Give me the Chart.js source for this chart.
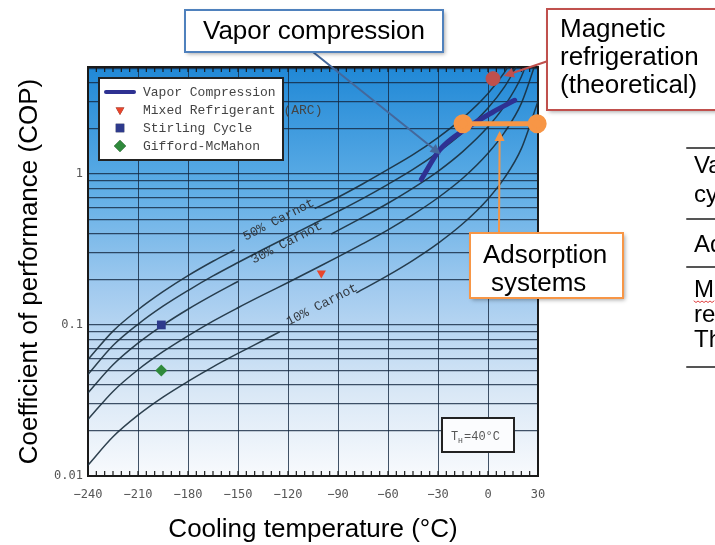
<!DOCTYPE html>
<html>
<head>
<meta charset="utf-8">
<script src="https://cdn.jsdelivr.net/npm/chart.js@4.4.1/dist/chart.umd.min.js"></script>
<style>
  html, body { margin: 0; padding: 0; background: #fff; }
  #wrap { width: 715px; height: 545px; }
</style>
</head>
<body>
<div id="wrap"><canvas id="copChart" width="715" height="545"></canvas></div>
<script>
// axis ticks
var xMin = -240, xMax = 30, xStep = 30, xMinorStep = 5;
var yMin = 0.01, yMax = 5.1;
var yTickValues = [0.01, 0.02, 0.03, 0.04, 0.05, 0.06, 0.07, 0.08, 0.09,
                   0.1, 0.2, 0.3, 0.4, 0.5, 0.6, 0.7, 0.8, 0.9,
                   1, 2, 3, 4, 5];
var yLabelValues = [0.01, 0.1, 1];

// fraction-of-Carnot curves [cooling temp °C, COP], null = gap for the label
var carnot50 = [[-240,0.059],[-225,0.091],[-210,0.126],[-195,0.166],[-180,0.212],[-165,0.264],[-152,0.314],
                [-128,null],
                [-104,0.59],[-90,0.70],[-75,0.86],[-60,1.07],[-45,1.34],[-30,1.74],[-15,2.35],[0,3.41],[10,4.72],[20,7.3]];
var carnot40 = [[-240,0.047],[-225,0.073],[-210,0.101],[-195,0.133],[-180,0.169],[-165,0.211],[-150,0.259],[-135,0.316],
                [-120,0.383],[-105,0.464],[-90,0.564],[-75,0.689],[-60,0.853],[-45,1.07],[-30,1.39],[-15,1.88],[0,2.73],[10,3.78],[20,5.86]];
var carnot30 = [[-240,0.0355],[-225,0.0545],[-210,0.0758],[-195,0.0998],[-180,0.127],[-165,0.158],[-150,0.194],
                [-122,null],
                [-94,0.40],[-75,0.517],[-60,0.639],[-45,0.805],[-30,1.04],[-15,1.41],[0,2.05],[10,2.83],[20,4.40],[30,9.09]];
var carnot20 = [[-240,0.0237],[-225,0.0363],[-210,0.0505],[-195,0.0665],[-180,0.0847],[-165,0.106],[-150,0.130],[-135,0.158],
                [-120,0.191],[-105,0.232],[-90,0.282],[-75,0.345],[-60,0.426],[-45,0.537],[-30,0.695],[-15,0.939],[0,1.37],[10,1.89],[20,2.93],[30,6.06]];
var carnot10 = [[-240,0.0118],[-225,0.0182],[-210,0.0253],[-195,0.0333],[-180,0.0423],[-165,0.0528],[-150,0.0648],[-135,0.0789],[-125,0.090],
                [-102,null],
                [-79,0.163],[-60,0.213],[-45,0.268],[-30,0.347],[-15,0.469],[0,0.683],[10,0.944],[20,1.47],[30,3.03]];

var carnotLabels = ['50% Carnot', '30% Carnot', '10% Carnot'];
var carnotLabelT = [-125.6, -120.8, -99.6];
var carnotLabelCop = [0.496, 0.349, 0.136];

// technologies
var vaporCompression = [[-40,0.92],[-29,1.44],[-13,2.0],[3,2.57],[16,3.07]];
var mixedRefrigerant = [[-100,0.22]];
var stirlingCycle = [[-196,0.1]];
var giffordMcMahon = [[-196,0.05]];
var magnetic = [[3,4.27]];
var adsorption = [[-15,2.15],[29.5,2.15]];

function pts(a) { return a.map(function (p) { return {x: p[0], y: p[1]}; }); }

var curveColor = 'rgba(25,45,60,0.9)';
var gridColor = 'rgba(20,40,65,0.8)';
var sans = '"Liberation Sans", Arial, sans-serif';
var mono = '"Liberation Mono", "Courier New", monospace';

function carnotSet(data) {
    return {
        label: '', data: pts(data), borderColor: curveColor, borderWidth: 1.5,
        pointRadius: 0, cubicInterpolationMode: 'monotone', spanGaps: false
    };
}

function arrow(ctx, x1, y1, x2, y2, color) {
    var a = Math.atan2(y2 - y1, x2 - x1), head = 10, hw = 5;
    var bx = x2 - Math.cos(a) * head, by = y2 - Math.sin(a) * head;
    ctx.save();
    ctx.strokeStyle = color; ctx.fillStyle = color; ctx.lineWidth = 2;
    ctx.beginPath(); ctx.moveTo(x1, y1); ctx.lineTo(bx, by); ctx.stroke();
    ctx.beginPath(); ctx.moveTo(x2, y2);
    ctx.lineTo(bx - Math.sin(a) * hw, by + Math.cos(a) * hw);
    ctx.lineTo(bx + Math.sin(a) * hw, by - Math.cos(a) * hw);
    ctx.closePath(); ctx.fill();
    ctx.restore();
}

function callout(ctx, x, y, w, h, color, lines, align) {
    ctx.save();
    ctx.shadowColor = 'rgba(0,0,0,0.35)'; ctx.shadowBlur = 4;
    ctx.shadowOffsetX = 2; ctx.shadowOffsetY = 2;
    ctx.fillStyle = '#fff'; ctx.fillRect(x, y, w, h);
    ctx.shadowColor = 'transparent';
    ctx.strokeStyle = color; ctx.lineWidth = 2; ctx.strokeRect(x, y, w, h);
    ctx.fillStyle = '#000'; ctx.font = '26px ' + sans;
    ctx.textAlign = align || 'left'; ctx.textBaseline = 'alphabetic';
    lines.forEach(function (l) { ctx.fillText(l[0], l[1], l[2]); });
    ctx.restore();
}

var decorPlugin = {
    id: 'decor',
    beforeDraw: function (chart) {
        var ctx = chart.ctx, a = chart.chartArea;
        ctx.save();
        ctx.fillStyle = '#fff';
        ctx.fillRect(0, 0, chart.width, chart.height);
        var g = ctx.createLinearGradient(0, a.top, 0, a.bottom);
        g.addColorStop(0, '#2088d6');
        g.addColorStop(0.28, '#5aabe5');
        g.addColorStop(0.55, '#a3cbef');
        g.addColorStop(0.8, '#dae8f6');
        g.addColorStop(1, '#f8fafd');
        ctx.fillStyle = g;
        ctx.fillRect(a.left, a.top, a.right - a.left, a.bottom - a.top);
        ctx.restore();
    },
    beforeDatasetsDraw: function (chart) {
        var ctx = chart.ctx, a = chart.chartArea, xs = chart.scales.x;
        ctx.save();
        ctx.strokeStyle = '#1a1a1a';
        ctx.lineWidth = 1.2;
        for (var v = xMin; v <= xMax; v += xMinorStep) {
            var px = xs.getPixelForValue(v);
            ctx.beginPath();
            ctx.moveTo(px, a.top); ctx.lineTo(px, a.top + 5);
            ctx.moveTo(px, a.bottom); ctx.lineTo(px, a.bottom - 5);
            ctx.stroke();
        }
        ctx.lineWidth = 2;
        ctx.strokeRect(a.left, a.top, a.right - a.left, a.bottom - a.top);

        // labels on the Carnot curves
        ctx.fillStyle = '#33383e';
        ctx.font = '13px ' + mono;
        ctx.textAlign = 'center'; ctx.textBaseline = 'middle';
        for (var i = 0; i < carnotLabels.length; i++) {
            ctx.save();
            ctx.translate(xs.getPixelForValue(carnotLabelT[i]), chart.scales.y.getPixelForValue(carnotLabelCop[i]));
            ctx.rotate(-27 * Math.PI / 180);
            ctx.fillText(carnotLabels[i], 0, 0);
            ctx.restore();
        }
        ctx.restore();
    },
    afterDraw: function (chart) {
        var ctx = chart.ctx, xs = chart.scales.x, ys = chart.scales.y;
        ctx.save();

        // legend box
        ctx.fillStyle = '#fff';
        ctx.fillRect(99, 78, 184, 82);
        ctx.strokeStyle = '#222'; ctx.lineWidth = 2;
        ctx.strokeRect(99, 78, 184, 82);
        var leg = [
            {label: 'Vapor Compression', kind: 'line', color: '#2e3192'},
            {label: 'Mixed Refrigerant (ARC)', kind: 'triangle', color: '#e8452c'},
            {label: 'Stirling Cycle', kind: 'rect', color: '#2e3a8c'},
            {label: 'Gifford-McMahon', kind: 'rectRot', color: '#2f8a3c'}
        ];
        ctx.font = '13px ' + mono;
        ctx.textBaseline = 'middle'; ctx.textAlign = 'left';
        leg.forEach(function (it, i) {
            var y = 92 + i * 18;
            if (it.kind === 'line') {
                ctx.strokeStyle = it.color; ctx.lineWidth = 4; ctx.lineCap = 'round';
                ctx.beginPath(); ctx.moveTo(106, y); ctx.lineTo(134, y); ctx.stroke();
            } else {
                Chart.helpers.drawPoint(ctx, {pointStyle: it.kind,
                    radius: it.kind === 'triangle' ? 5 : 6, rotation: it.kind === 'triangle' ? 180 : 0,
                    borderWidth: 0}, 120, y);
                ctx.fillStyle = it.color; ctx.fill();
            }
            ctx.fillStyle = '#444';
            ctx.fillText(it.label, 143, y + 1);
        });

        // T_H box
        ctx.fillStyle = '#fbfcfe';
        ctx.fillRect(442, 418, 72, 34);
        ctx.strokeStyle = '#222'; ctx.lineWidth = 2;
        ctx.strokeRect(442, 418, 72, 34);
        ctx.fillStyle = '#555';
        ctx.font = '12px ' + mono;
        ctx.textBaseline = 'alphabetic';
        ctx.fillText('T', 451, 440);
        ctx.font = '8px ' + mono;
        ctx.fillText('H', 458, 443);
        ctx.font = '12px ' + mono;
        ctx.fillText('=40\u00b0C', 464, 440);

        // callouts
        arrow(ctx, 313, 52, xs.getPixelForValue(-28.5), ys.getPixelForValue(1.35), '#44689c');
        callout(ctx, 185, 10, 258, 42, '#4f81bd', [['Vapor compression', 314, 39]], 'center');

        arrow(ctx, 548, 61, xs.getPixelForValue(9.5), ys.getPixelForValue(4.45), '#c0504d');
        callout(ctx, 547, 9, 185, 101, '#c0504d',
            [['Magnetic', 560, 37], ['refrigeration', 560, 65], ['(theoretical)', 560, 93]]);

        arrow(ctx, 499, 233, xs.getPixelForValue(7), ys.getPixelForValue(1.92), '#f79646');
        callout(ctx, 470, 233, 153, 65, '#f79646',
            [['Adsorption', 483, 263], ['systems', 491, 291]]);

        // cropped table at the right edge
        ctx.strokeStyle = '#555'; ctx.lineWidth = 2;
        [148, 219, 267, 367].forEach(function (y) {
            ctx.beginPath(); ctx.moveTo(687, y); ctx.lineTo(715, y); ctx.stroke();
        });
        ctx.fillStyle = '#000';
        ctx.font = '24px ' + sans;
        ctx.textAlign = 'left'; ctx.textBaseline = 'alphabetic';
        [['Vapor', 173], ['cycle', 202], ['Adsorption', 252], ['Magnetic', 297], ['refrigeration', 322], ['Theoretical', 347]]
            .forEach(function (t) { ctx.fillText(t[0], 694, t[1]); });
        // spell-check squiggle under "Magnetic"
        ctx.strokeStyle = '#e04040'; ctx.lineWidth = 1;
        ctx.beginPath();
        for (var sx = 694; sx <= 715; sx += 2) {
            var sy = 301 + ((sx - 694) % 4 === 0 ? 0 : 1.5);
            if (sx === 694) ctx.moveTo(sx, sy); else ctx.lineTo(sx, sy);
        }
        ctx.stroke();
        ctx.restore();
    }
};

var ctx = document.getElementById('copChart').getContext('2d');
var copChart = new Chart(ctx, {
    type: 'line',
    data: {
        datasets: [
            {label: 'Adsorption systems', data: pts(adsorption), borderColor: '#f79646', borderWidth: 5,
             pointRadius: 7, pointBackgroundColor: '#f79646', pointBorderColor: '#f79646', clip: false},
            {label: 'Magnetic refrigeration (theoretical)', data: pts(magnetic), showLine: false,
             pointRadius: 7, pointBackgroundColor: '#c0504d', pointBorderColor: '#c0504d', clip: false},
            {label: 'Gifford-McMahon', data: pts(giffordMcMahon), showLine: false, pointStyle: 'rectRot',
             pointRadius: 6, pointBackgroundColor: '#2f8a3c', pointBorderWidth: 0},
            {label: 'Stirling Cycle', data: pts(stirlingCycle), showLine: false, pointStyle: 'rect',
             pointRadius: 6.2, pointBackgroundColor: '#2e3a8c', pointBorderWidth: 0},
            {label: 'Mixed Refrigerant (ARC)', data: pts(mixedRefrigerant), showLine: false, pointStyle: 'triangle',
             pointRotation: 180, pointRadius: 5.3, pointBackgroundColor: '#e8452c', pointBorderWidth: 0},
            {label: 'Vapor Compression', data: pts(vaporCompression), borderColor: '#2e3192', borderWidth: 5,
             borderCapStyle: 'round', pointRadius: 0, cubicInterpolationMode: 'monotone', clip: false},
            carnotSet(carnot50),
            carnotSet(carnot40),
            carnotSet(carnot30),
            carnotSet(carnot20),
            carnotSet(carnot10)
        ]
    },
    options: {
        responsive: false,
        animation: false,
        devicePixelRatio: 1,
        layout: { padding: { left: 0, top: 67, right: 177, bottom: 0 } },
        plugins: { legend: { display: false }, tooltip: { enabled: false } },
        scales: {
            x: {
                type: 'linear', min: xMin, max: xMax,
                afterFit: function (s) { s.height = 69; },
                grid: { color: gridColor, lineWidth: 1, drawTicks: false },
                border: { display: false },
                ticks: {
                    stepSize: xStep, padding: 12, color: '#555',
                    font: { family: '"DejaVu Sans Mono", monospace', size: 12 },
                    callback: function (v) { return v < 0 ? '\u2212' + Math.abs(v) : String(v); }
                },
                title: { display: true, text: 'Cooling temperature (\u00b0C)', color: '#000',
                         font: { family: sans, size: 26 }, padding: { top: 0, bottom: 0 } }
            },
            y: {
                type: 'logarithmic', min: yMin, max: yMax,
                afterFit: function (s) { s.width = 88; },
                afterBuildTicks: function (s) { s.ticks = yTickValues.map(function (v) { return {value: v}; }); },
                grid: { color: gridColor, lineWidth: 1.2, drawTicks: false },
                border: { display: false },
                ticks: {
                    autoSkip: false, padding: 5, color: '#555',
                    font: { family: '"DejaVu Sans Mono", monospace', size: 12 },
                    callback: function (v) { return yLabelValues.indexOf(v) >= 0 ? String(v) : ''; }
                },
                title: { display: true, text: 'Coefficient of performance (COP)', color: '#000',
                         font: { family: sans, size: 26 }, padding: { top: 14, bottom: 0 } }
            }
        }
    },
    plugins: [decorPlugin]
});
</script>
</body>
</html>
